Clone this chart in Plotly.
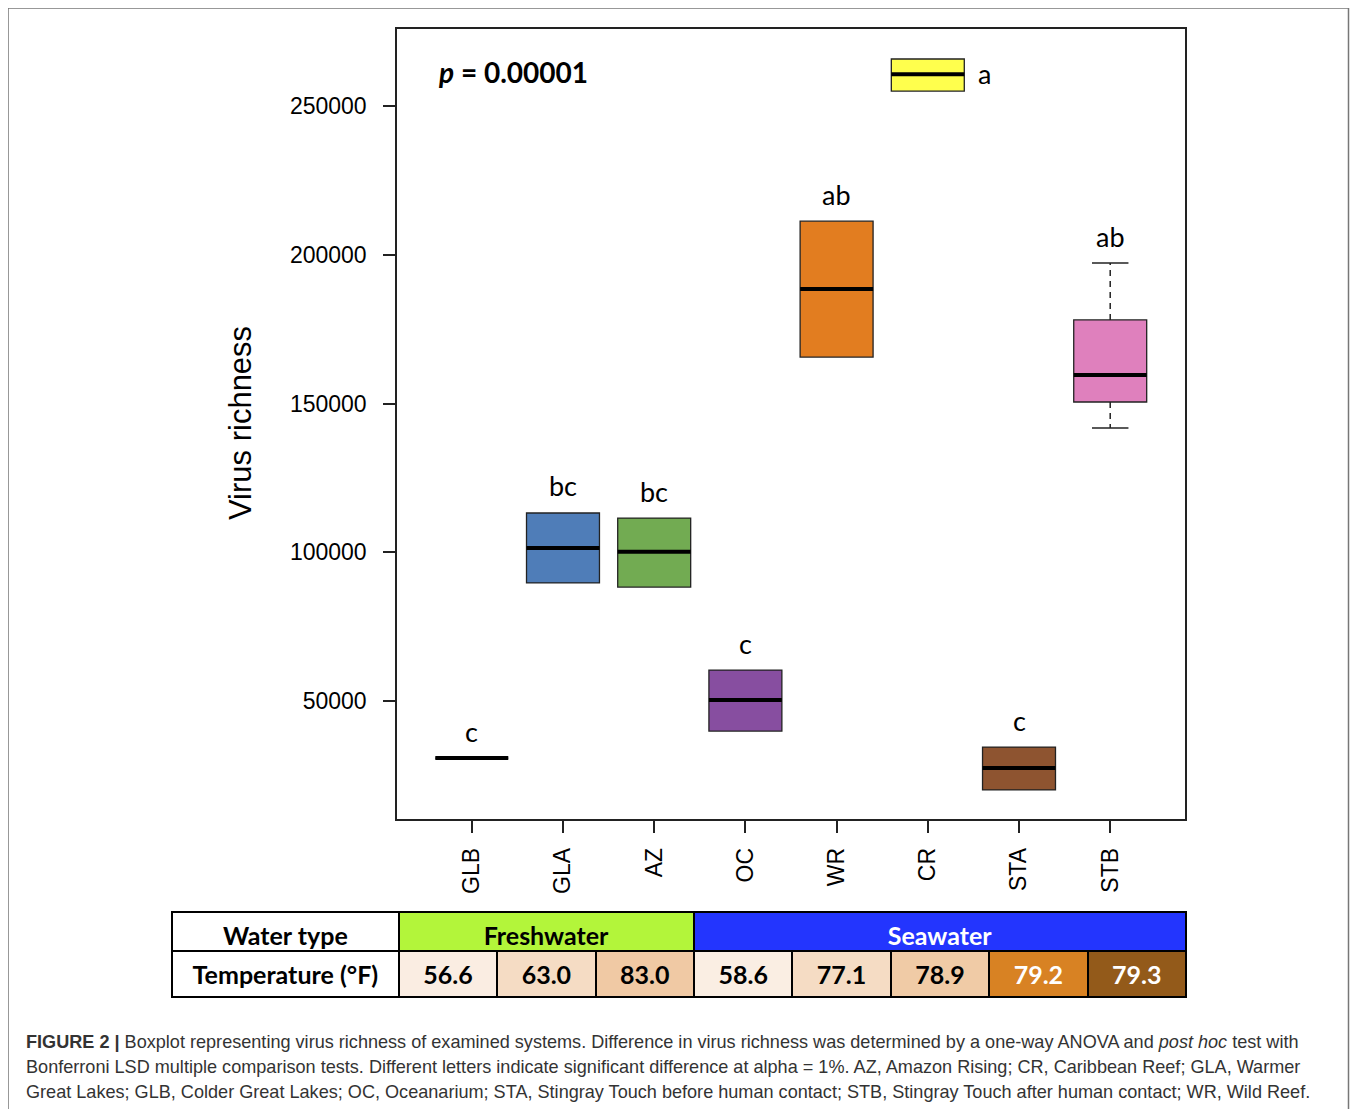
import plotly.graph_objects as go

W, H = 1358, 1109
OFF = 8  # page body margin
FW, FH = W - OFF, H - OFF

# ---------------- data ----------------
sites = ["GLB", "GLA", "AZ", "OC", "WR", "CR", "STA", "STB"]
q1 = [30800, 89700, 88300, 39900, 165600, 255000, 20100, 150500]
median = [30800, 101400, 100200, 50300, 188500, 260700, 27500, 159600]
q3 = [30800, 113200, 111500, 60400, 211300, 265800, 34500, 178100]
lower_whisker = [30800, 89700, 88300, 39900, 165600, 255000, 20100, 141800]
upper_whisker = [30800, 113200, 111500, 60400, 211300, 265800, 34500, 197200]
letters = ["c", "bc", "bc", "c", "ab", "a", "c", "ab"]
box_colors = ["#000000", "#4F7DB8", "#72AB52", "#874EA0", "#E27D20", "#FFFF4D", "#8E5430", "#DF80BD"]

y_ticks = [50000, 100000, 150000, 200000, 250000]
p_value_text = "<i>p</i> = 0.00001"

water_types = ["Freshwater", "Seawater"]
water_type_counts = [3, 5]
water_type_colors = ["#B3F53A", "#2335FE"]
water_type_font = ["black", "white"]
temperatures = ["56.6", "63.0", "83.0", "58.6", "77.1", "78.9", "79.2", "79.3"]
temp_colors = ["#FAEDE2", "#F5DCC4", "#F0C9A4", "#FAEEE3", "#F5DCC4", "#F0CBA6", "#D88223", "#935A1A"]
temp_font = ["black"] * 6 + ["white", "white"]

caption_lines = [
    "<b>FIGURE 2 |</b> Boxplot representing virus richness of examined systems. Difference in virus richness was determined by a one-way ANOVA and <i>post hoc</i> test with",
    "Bonferroni LSD multiple comparison tests. Different letters indicate significant difference at alpha = 1%. AZ, Amazon Rising; CR, Caribbean Reef; GLA, Warmer",
    "Great Lakes; GLB, Colder Great Lakes; OC, Oceanarium; STA, Stingray Touch before human contact; STB, Stingray Touch after human contact; WR, Wild Reef.",
]

# ---------------- layout helpers (screen pixels -> paper) ----------------
def px_x(p):
    return (p - OFF) / FW

def px_y(p):
    return (FH - (p - OFF)) / FH

plot_left, plot_right, plot_top, plot_bottom = 397, 1185, 29, 819
box_w = 0.8
positions = list(range(1, len(sites) + 1))

fig = go.Figure()

for i, s in enumerate(sites):
    fig.add_trace(go.Box(
        x=[positions[i]], q1=[q1[i]], median=[median[i]], q3=[q3[i]],
        lowerfence=[q1[i]], upperfence=[q3[i]],
        width=box_w, fillcolor=box_colors[i],
        line=dict(color="#222222", width=1.3),
        boxpoints=False, whiskerwidth=0, showlegend=False, hoverinfo="skip",
    ))

# whiskers (dashed) and staples
wx, wy, cx, cy = [], [], [], []
for i in range(len(sites)):
    p = positions[i]
    if upper_whisker[i] > q3[i]:
        wx += [p, p, None]
        wy += [q3[i], upper_whisker[i], None]
    if lower_whisker[i] < q1[i]:
        wx += [p, p, None]
        wy += [q1[i], lower_whisker[i], None]
    if upper_whisker[i] > q3[i] or lower_whisker[i] < q1[i]:
        cx += [p - box_w / 4, p + box_w / 4, None, p - box_w / 4, p + box_w / 4, None]
        cy += [upper_whisker[i], upper_whisker[i], None, lower_whisker[i], lower_whisker[i], None]
fig.add_trace(go.Scatter(x=wx, y=wy, mode="lines", line=dict(color="#222222", width=1.5, dash="6px,5px"),
                         showlegend=False, hoverinfo="skip"))
fig.add_trace(go.Scatter(x=cx, y=cy, mode="lines", line=dict(color="#222222", width=1.5),
                         showlegend=False, hoverinfo="skip"))

# thick medians
mx, my = [], []
for i in range(len(sites)):
    p = positions[i]
    mx += [p - box_w / 2, p + box_w / 2, None]
    my += [median[i], median[i], None]
fig.add_trace(go.Scatter(x=mx, y=my, mode="lines", line=dict(color="black", width=4),
                         showlegend=False, hoverinfo="skip"))

annotations = []
letter_font = dict(family="Lato, Carlito, sans-serif", size=27, color="black")
for i, s in enumerate(sites):
    if i == sites.index("CR"):
        annotations.append(dict(x=positions[i], y=median[i], xref="x", yref="y", text=letters[i],
                                showarrow=False, xanchor="left", yanchor="middle", xshift=48, yshift=1,
                                font=letter_font))
    else:
        annotations.append(dict(x=positions[i], y=upper_whisker[i], xref="x", yref="y", text=letters[i],
                                showarrow=False, xanchor="center", yanchor="middle", yshift=27,
                                font=letter_font))

annotations.append(dict(x=px_x(436), y=px_y(72), xref="paper", yref="paper", text="<b>" + p_value_text + "</b>",
                        showarrow=False, xanchor="left", yanchor="middle",
                        font=dict(family="Lato, sans-serif", size=28, color="black")))

annotations.append(dict(x=px_x(240), y=px_y(423), xref="paper", yref="paper", text="Virus richness",
                        textangle=-90, showarrow=False, xanchor="center", yanchor="middle",
                        font=dict(family="Liberation Sans, Arial, sans-serif", size=31, color="black")))

for k, line in enumerate(caption_lines):
    annotations.append(dict(x=px_x(24), y=px_y(1042 + 25 * k), xref="paper", yref="paper", text=line,
                            showarrow=False, xanchor="left", yanchor="middle",
                            font=dict(family="Liberation Sans, Arial, sans-serif", size=18.1, color="#333333")))

# ---------------- table ----------------
tbl_left, tbl_right = 172, 1187
label_w = 227
row1_top, row1_bot, row2_bot = 912, 951, 991
data_w = (tbl_right - tbl_left - label_w) / len(temperatures)
tbl_font = "Lato, sans-serif"

fig.add_trace(go.Table(
    domain=dict(x=[px_x(tbl_left), px_x(tbl_right)], y=[px_y(row1_bot + 8), px_y(row1_top)]),
    columnwidth=[label_w] + [data_w * c for c in water_type_counts],
    header=dict(values=["<b>Water type</b>"] + ["<b>%s</b>" % t for t in water_types],
                fill=dict(color=["white"] + water_type_colors),
                font=dict(family=tbl_font, size=25, color=["black"] + water_type_font),
                line=dict(color="black", width=2), height=39, align="center"),
    cells=dict(values=[[], [], []], height=0),
))
fig.add_trace(go.Table(
    domain=dict(x=[px_x(tbl_left), px_x(tbl_right)], y=[px_y(row2_bot + 8), px_y(row1_bot)]),
    columnwidth=[label_w] + [data_w] * len(temperatures),
    header=dict(values=["<b>Temperature (°F)</b>"] + ["<b>%s</b>" % t for t in temperatures],
                fill=dict(color=["white"] + temp_colors),
                font=dict(family=tbl_font, size=25, color=["black"] + temp_font),
                line=dict(color="black", width=2), height=40, align="center"),
    cells=dict(values=[[] for _ in range(len(temperatures) + 1)], height=0),
))

tick_font = dict(family="Liberation Sans, Arial, sans-serif", size=23, color="black")
fig.update_layout(
    width=FW, height=FH, margin=dict(l=0, r=0, t=0, b=0),
    paper_bgcolor="white", plot_bgcolor="white",
    showlegend=False, boxmode="overlay",
    xaxis=dict(domain=[px_x(plot_left), px_x(plot_right)], range=[0.18, 8.82],
               tickvals=positions, ticktext=sites, tickangle=-90, ticks="outside", ticklen=12,
               tickwidth=1.5, tickcolor="#222", showline=True, linecolor="#222", linewidth=1.5,
               mirror=True, showgrid=False, zeroline=False, tickfont=tick_font, ticklabelstandoff=6,
               fixedrange=True),
    yaxis=dict(domain=[px_y(plot_bottom), px_y(plot_top)], range=[10336, 275882],
               tickvals=y_ticks, tickformat="d", ticks="outside", ticklen=12,
               tickwidth=1.5, tickcolor="#222", showline=True, linecolor="#222", linewidth=1.5,
               mirror=True, showgrid=False, zeroline=False, tickfont=tick_font, ticklabelstandoff=12,
               fixedrange=True),
    annotations=annotations,
    shapes=[dict(type="rect", xref="paper", yref="paper", x0=px_x(8), x1=px_x(1348.5),
                 y0=px_y(1130), y1=px_y(8), line=dict(color="#777777", width=1.5))],
)

fig.write_html("out.html")
